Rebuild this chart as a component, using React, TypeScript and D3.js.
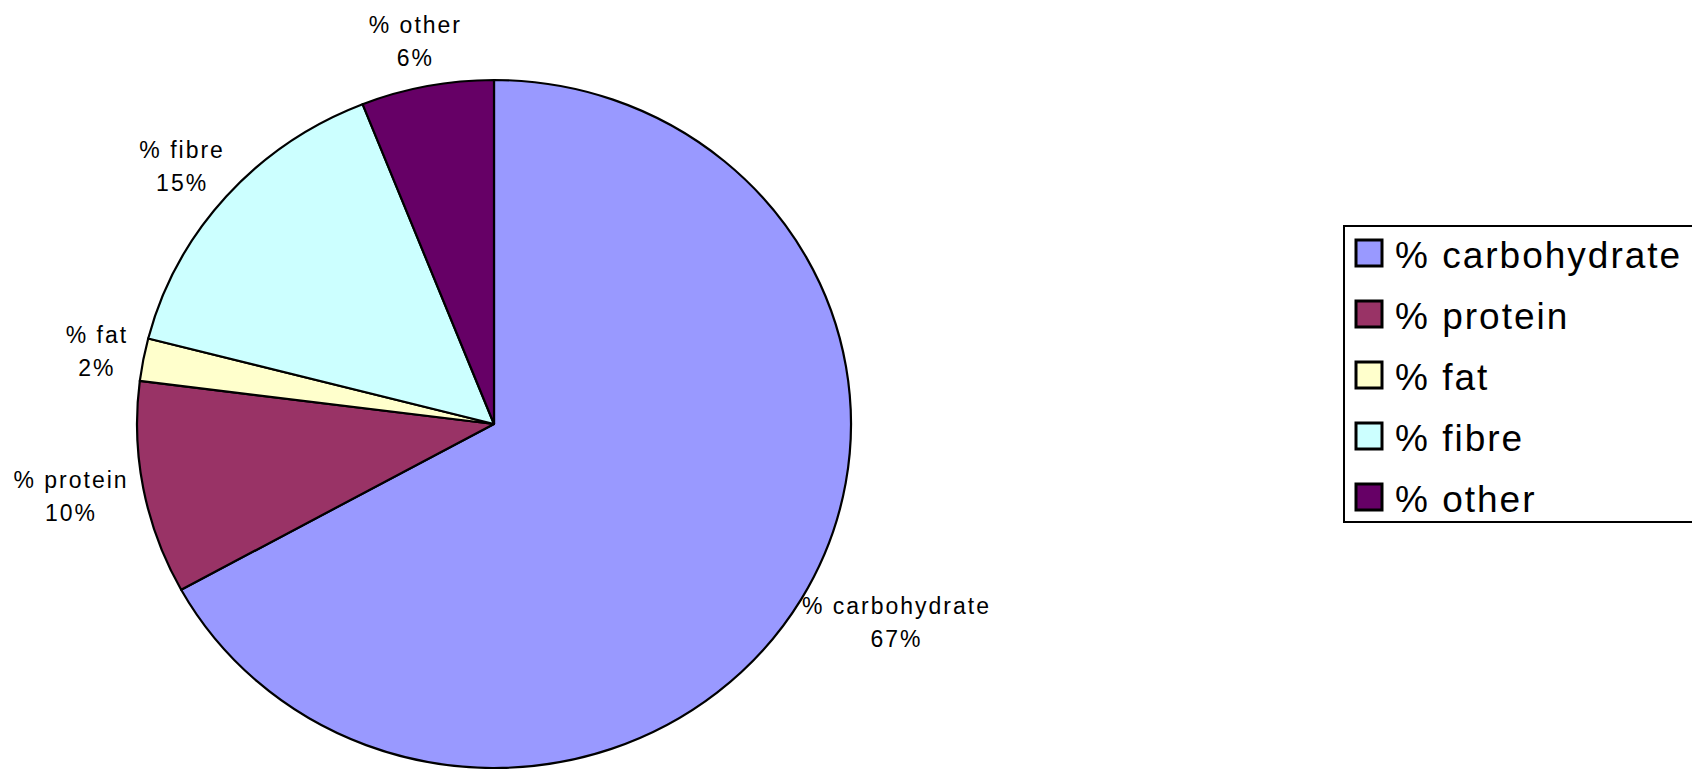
import React, { useEffect, useRef } from "react";
import * as d3 from "d3";

const categories = ["% carbohydrate", "% protein", "% fat", "% fibre", "% other"];
const values = [67, 10, 2, 15, 6];
const colors = ["#9999FF", "#993366", "#FFFFCC", "#CCFFFF", "#660066"];

function App() {
  const svgRef = useRef<SVGSVGElement>(null);

  useEffect(() => {
    document.body.style.margin = "0";
    const width = 1692;
    const height = 769;
    const cx = 494;
    const cy = 424;
    const rx = 357;
    const ry = 344;
    const gap = 16;

    const svg = d3.select(svgRef.current).attr("width", width).attr("height", height);
    svg.selectAll("*").remove();

    const data = categories.map((c, i) => ({ name: c, value: values[i], color: colors[i] }));
    const pie = d3.pie<any>().sort(null).value((d) => d.value);
    const arcs = pie(data);
    const arc = d3.arc<any>().innerRadius(0).outerRadius(rx);

    // Pie, squashed a little vertically like the original
    const g = svg
      .append("g")
      .attr("transform", `translate(${cx},${cy}) scale(1,${ry / rx})`);

    g.selectAll("path")
      .data(arcs)
      .enter()
      .append("path")
      .attr("d", arc)
      .attr("fill", (d) => d.data.color)
      .attr("stroke", "#000")
      .attr("stroke-width", 2.2)
      .attr("stroke-linejoin", "round")
      .attr("vector-effect", "non-scaling-stroke");

    // Data labels outside each slice
    const total = d3.sum(values);
    const labels = svg
      .append("g")
      .attr("font-family", "'Liberation Sans', Arial, sans-serif")
      .attr("font-size", 23)
      .attr("letter-spacing", 2)
      .attr("fill", "#000");

    arcs.forEach((a) => {
      const t = labels.append("text").attr("text-anchor", "middle");
      t.append("tspan").attr("x", 0).attr("y", 0).text(a.data.name);
      t.append("tspan")
        .attr("x", 0)
        .attr("y", 33)
        .text(`${Math.round((a.data.value / total) * 100)}%`);
      const bb = (t.node() as SVGTextElement).getBBox();
      const mid = (a.startAngle + a.endAngle) / 2;
      const sx = Math.sin(mid);
      const sy = -Math.cos(mid);
      const px = cx + sx * (rx + gap) + (sx * bb.width) / 2;
      const py = cy + sy * (ry + gap) + (sy * bb.height) / 2;
      const bx = bb.x + bb.width / 2;
      const by = bb.y + bb.height / 2;
      t.attr("transform", `translate(${px - bx},${py - by})`);
    });

    // Legend
    const legend = svg.append("g");
    legend
      .append("rect")
      .attr("x", 1344)
      .attr("y", 226)
      .attr("width", 400)
      .attr("height", 296)
      .attr("fill", "#fff")
      .attr("stroke", "#000")
      .attr("stroke-width", 2);

    const rowY = d3.scaleLinear().domain([0, 1]).range([239, 300]);
    const items = legend
      .selectAll("g.item")
      .data(data)
      .enter()
      .append("g")
      .attr("class", "item")
      .attr("transform", (_, i) => `translate(0,${rowY(i)})`);

    items
      .append("rect")
      .attr("x", 1356)
      .attr("y", 1)
      .attr("width", 26)
      .attr("height", 26)
      .attr("fill", (d) => d.color)
      .attr("stroke", "#000")
      .attr("stroke-width", 3);

    items
      .append("text")
      .attr("x", 1395)
      .attr("y", 29)
      .attr("font-family", "'Liberation Sans', Arial, sans-serif")
      .attr("font-size", 37)
      .attr("letter-spacing", 2)
      .attr("fill", "#000")
      .text((d) => d.name);
  }, []);

  return (
    <div style={{ position: "absolute", left: 0, top: 0, width: 1692, height: 769, overflow: "hidden", background: "#fff" }}>
      <svg ref={svgRef} style={{ display: "block" }}></svg>
    </div>
  );
}

export default App;
